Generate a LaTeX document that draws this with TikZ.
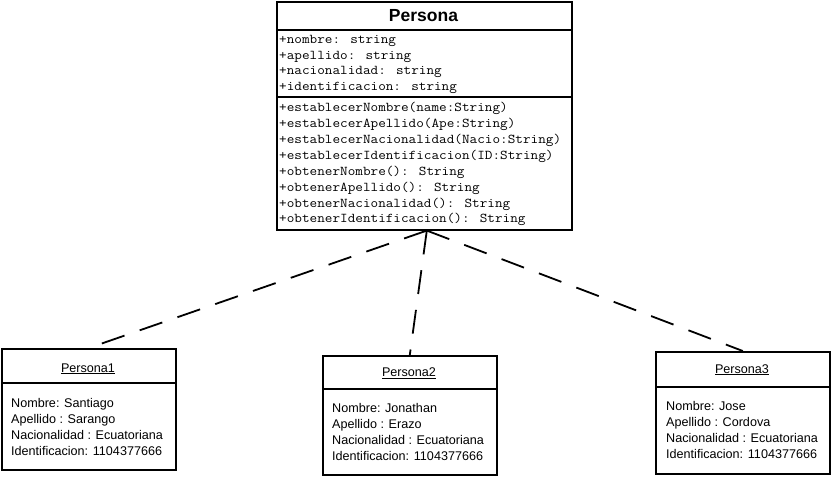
\documentclass[tikz,border=0pt]{standalone}
\usepackage{fontspec}
\setmainfont{Liberation Sans}
\newfontfamily\umlmono{Latin Modern Mono}[FakeStretch=1.1]
\begin{document}
\begin{tikzpicture}[x=1pt,y=-1pt,
  frame/.style={draw=black, line width=1.6pt, inner sep=0pt, anchor=north west},
  rule/.style={line width=1.6pt},
  member/.style={font=\umlmono\fontsize{13.45}{15}\selectfont, anchor=base west, inner sep=0pt},
  slot/.style={font=\fontsize{12.6}{14}\selectfont, anchor=base west, inner sep=0pt},
  objname/.style={font=\fontsize{12.6}{14}\selectfont, anchor=base, inner sep=0pt},
  depline/.style={line width=1.8pt, dash pattern=on 24pt off 16pt}]
\useasboundingbox (0,0) rectangle (832,478);

% ---- class Persona ----
\node[frame, minimum width=295pt, minimum height=228pt] (persona) at (276,1) {};
\draw[rule] (276,30) -- (571,30);
\draw[rule] (276,97) -- (571,97);
\node[font=\bfseries\fontsize{17.5}{20}\selectfont, anchor=base, inner sep=0pt] (pname) at (423.5,22) {Persona};

\node[member] (a1) at (279,43.3) {+nombre: string};
\node[member] (a2) at (279,59.1) {+apellido: string};
\node[member] (a3) at (279,74.9) {+nacionalidad: string};
\node[member] (a4) at (279,90.7) {+identificacion: string};

\node[member] (m1) at (279,111.7) {+establecerNombre(name:String)};
\node[member] (m2) at (279,127.6) {+establecerApellido(Ape:String)};
\node[member] (m3) at (279,143.5) {+establecerNacionalidad(Nacio:String)};
\node[member] (m4) at (279,159.4) {+establecerIdentificacion(ID:String)};
\node[member] (m5) at (279,175.3) {+obtenerNombre(): String};
\node[member] (m6) at (279,191.2) {+obtenerApellido(): String};
\node[member] (m7) at (279,207.1) {+obtenerNacionalidad(): String};
\node[member] (m8) at (279,223.0) {+obtenerIdentificacion(): String};

% ---- object Persona1 ----
\node[frame, minimum width=174pt, minimum height=121pt] (p1) at (1,348) {};
\draw[rule] (1,383) -- (175,383);
\node[objname] (p1name) at (88,372) {\underline{Persona1}};
\node[slot] (p1a) at (11,407) {Nombre: Santiago};
\node[slot] (p1b) at (11,423) {Apellido : Sarango};
\node[slot] (p1c) at (11,439) {Nacionalidad : Ecuatoriana};
\node[slot] (p1d) at (11,455) {Identificacion: 1104377666};

% ---- object Persona2 ----
\node[frame, minimum width=174pt, minimum height=119pt] (p2) at (322,355) {};
\draw[rule] (322,389) -- (496,389);
\node[objname] (p2name) at (409,376.5) {\underline{Persona2}};
\node[slot] (p2a) at (332,412) {Nombre: Jonathan};
\node[slot] (p2b) at (332,428) {Apellido : Erazo};
\node[slot] (p2c) at (332,444) {Nacionalidad : Ecuatoriana};
\node[slot] (p2d) at (332,460) {Identificacion: 1104377666};

% ---- object Persona3 ----
\node[frame, minimum width=174pt, minimum height=122pt] (p3) at (655,351) {};
\draw[rule] (655,387) -- (829,387);
\node[objname] (p3name) at (742,373) {\underline{Persona3}};
\node[slot] (p3a) at (666,410) {Nombre: Jose};
\node[slot] (p3b) at (666,426) {Apellido : Cordova};
\node[slot] (p3c) at (666,442) {Nacionalidad : Ecuatoriana};
\node[slot] (p3d) at (666,458) {Identificacion: 1104377666};

% ---- dependencies (dashes start at the class box) ----
\draw[depline] ([xshift=2.5pt]persona.south) -- (p1.north);
\draw[depline] ([xshift=2.5pt]persona.south) -- (p2.north);
\draw[depline] ([xshift=2.5pt]persona.south) -- (p3.north);
\end{tikzpicture}
\end{document}
